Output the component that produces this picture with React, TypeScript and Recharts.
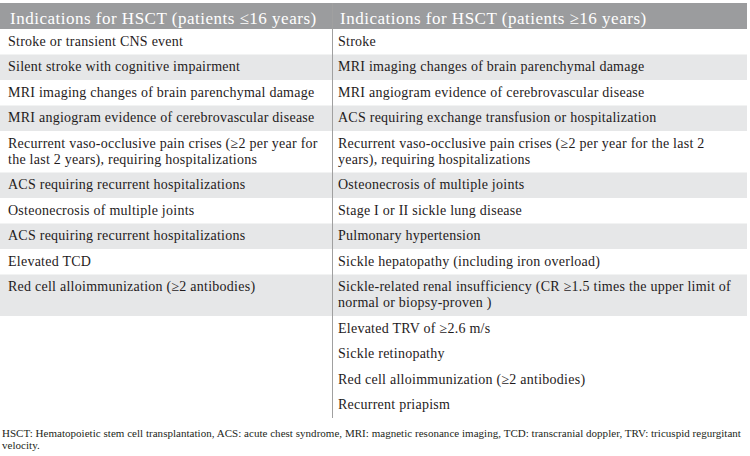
import React from 'react';
import { Surface, Layer, Rectangle, Text } from 'recharts';

const headers = [
    'Indications for HSCT (patients ≤16 years)',
    'Indications for HSCT (patients ≥16 years)',
];

// each row is a list of printed lines
const childRows: string[][] = [
    ['Stroke or transient CNS event'],
    ['Silent stroke with cognitive impairment'],
    ['MRI imaging changes of brain parenchymal damage'],
    ['MRI angiogram evidence of cerebrovascular disease'],
    ['Recurrent vaso-occlusive pain crises (≥2 per year for', 'the last 2 years), requiring hospitalizations'],
    ['ACS requiring recurrent hospitalizations'],
    ['Osteonecrosis of multiple joints'],
    ['ACS requiring recurrent hospitalizations'],
    ['Elevated TCD'],
    ['Red cell alloimmunization (≥2 antibodies)'],
];

const adultRows: string[][] = [
    ['Stroke'],
    ['MRI imaging changes of brain parenchymal damage'],
    ['MRI angiogram evidence of cerebrovascular disease'],
    ['ACS requiring exchange transfusion or hospitalization'],
    ['Recurrent vaso-occlusive pain crises (≥2 per year for the last 2', 'years), requiring hospitalizations'],
    ['Osteonecrosis of multiple joints'],
    ['Stage I or II sickle lung disease'],
    ['Pulmonary hypertension'],
    ['Sickle hepatopathy (including iron overload)'],
    ['Sickle-related renal insufficiency (CR ≥1.5 times the upper limit of', 'normal or biopsy-proven )'],
    ['Elevated TRV of ≥2.6 m/s'],
    ['Sickle retinopathy'],
    ['Red cell alloimmunization (≥2 antibodies)'],
    ['Recurrent priapism'],
];

const footnote = [
    'HSCT: Hematopoietic stem cell transplantation, ACS: acute chest syndrome, MRI: magnetic resonance imaging, TCD: transcranial doppler, TRV: tricuspid regurgitant',
    'velocity.',
];

const W = 750;
const H = 456;
const FONT = '"Liberation Serif", "DejaVu Serif", serif';
const tableRight = 747;
const splitX = 332;
const headerTop = 3;
const headerBottom = 29;
const rowH = 25.5;
const lineH = 16;

const cellText = { fontSize: 14, fontFamily: FONT, fill: '#1f1b1c', letterSpacing: 0.25 };

export default function App() {
    const n = Math.max(childRows.length, adultRows.length);
    const rows = [];
    let y = headerBottom;
    for (let i = 0; i < n; i++) {
        const left = childRows[i] || [];
        const right = adultRows[i] || [];
        const lines = Math.max(left.length, right.length, 1);
        const h = rowH + (lines - 1) * lineH;
        // shading alternates only while the left column still has entries
        rows.push({ y, h, left, right, shaded: i % 2 === 1 && i < childRows.length });
        y += h;
    }
    const tableBottom = y;

    return (
        <div style={{ position: 'absolute', left: 0, top: 0, width: W, height: H, background: '#fff' }}>
            <Surface width={W} height={H}>
                {/* header band */}
                <Rectangle x={0} y={headerTop} width={tableRight} height={headerBottom - headerTop} fill="#9b9c9e" />
                {headers.map((h, i) => (
                    <Text
                        key={h}
                        x={i === 0 ? 10 : splitX + 8}
                        y={24}
                        fontSize={17}
                        fontFamily={FONT}
                        letterSpacing={0.5}
                        fill="#ffffff"
                    >
                        {h}
                    </Text>
                ))}
                {rows.map((r, i) => (
                    <Layer key={i}>
                        {r.shaded && <Rectangle x={0} y={r.y} width={tableRight} height={r.h} fill="#e6e7e8" />}
                        {r.left.map((t, j) => (
                            <Text key={'l' + j} x={8} y={r.y + 16.5 + j * lineH} {...cellText}>
                                {t}
                            </Text>
                        ))}
                        {r.right.map((t, j) => (
                            <Text key={'r' + j} x={splitX + 6} y={r.y + 16.5 + j * lineH} {...cellText}>
                                {t}
                            </Text>
                        ))}
                    </Layer>
                ))}
                {/* column divider */}
                <line x1={splitX + 0.5} x2={splitX + 0.5} y1={headerTop} y2={tableBottom} stroke="#a0a0a0" strokeWidth={1} />
                {footnote.map((t, i) => (
                    <Text key={i} x={2} y={437 + i * 12} fontSize={11} fontFamily={FONT} letterSpacing={0.03} fill="#231f20">
                        {t}
                    </Text>
                ))}
            </Surface>
        </div>
    );
}
